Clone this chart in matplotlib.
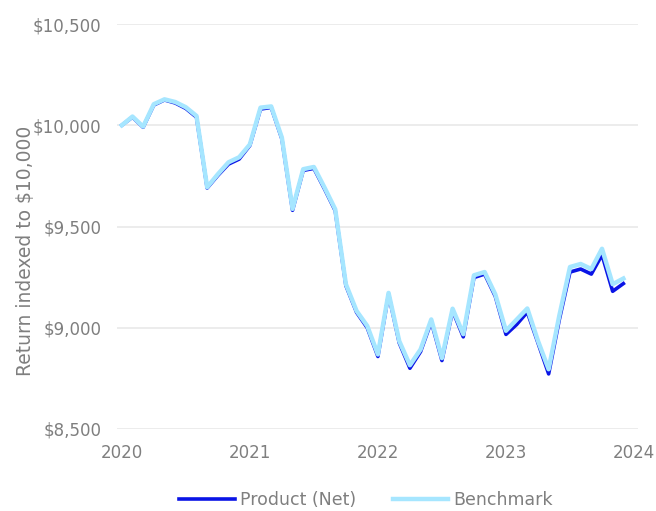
import numpy as np
import matplotlib.pyplot as plt
from matplotlib.ticker import FuncFormatter

# monthly values, Jan 2020 .. Dec 2023
product = [10000, 10040, 9990, 10100, 10125, 10110, 10083, 10040, 9690, 9752, 9808, 9833,
           9900, 10080, 10088, 9933, 9580, 9777, 9787, 9685, 9578, 9208, 9076, 9000,
           8858, 9165, 8925, 8800, 8882, 9030, 8838, 9084, 8955, 9248, 9265, 9155,
           8967, 9016, 9077, 8925, 8772, 9040, 9275, 9290, 9265, 9360, 9180, 9218]
benchmark = [10000, 10043, 9993, 10104, 10128, 10115, 10089, 10046, 9694, 9758, 9817, 9842,
             9905, 10087, 10093, 9939, 9587, 9783, 9794, 9692, 9585, 9215, 9083, 9009,
             8868, 9172, 8934, 8815, 8893, 9041, 8850, 9094, 8968, 9259, 9275, 9165,
             8985, 9040, 9095, 8935, 8795, 9060, 9300, 9315, 9290, 9390, 9215, 9243]
years = ["2020", "2021", "2022", "2023", "2024"]
y_ticks = [8500, 9000, 9500, 10000, 10500]

grey = "#7f7f7f"
plt.rcParams['font.family'] = ['DejaVu Sans']

fig = plt.figure(figsize=(6.56, 5.11), dpi=100)
ax = fig.add_axes([0.178, 0.1605, 0.795, 0.7925])

months = np.arange(len(product))
ax.plot(months, product, color="#0a14e6", lw=2.6, label="Product (Net)",
        solid_joinstyle="round", zorder=3)
ax.plot(months, benchmark, color="#a6e6ff", lw=3.2, label="Benchmark",
        solid_joinstyle="round", zorder=4)

ax.set_xlim(-0.47, 48.4)
ax.set_ylim(8500, 10500)
ax.set_xticks(np.arange(0, 49, 12))
ax.set_xticklabels(years)
ax.set_yticks(y_ticks)
ax.yaxis.set_major_formatter(FuncFormatter(lambda v, p: "${:,.0f}".format(v)))
ax.grid(axis="y", color="#ebebeb", lw=1.3)
ax.set_axisbelow(True)
for s in ax.spines.values():
    s.set_visible(False)
ax.tick_params(length=0, labelsize=12, colors=grey)
ax.tick_params(axis="y", pad=11)
ax.tick_params(axis="x", pad=11)

ax.set_ylabel("Return indexed to $10,000", fontsize=13.5, color=grey)
ax.yaxis.set_label_coords(-0.157, 0.44)

fig.legend(loc="center", bbox_to_anchor=(0.558, 0.022), ncol=2, frameon=False,
           fontsize=12.5, labelcolor=grey, handlelength=3.2, handletextpad=0.3,
           columnspacing=2.1)

fig.savefig("out.png", dpi=100)
